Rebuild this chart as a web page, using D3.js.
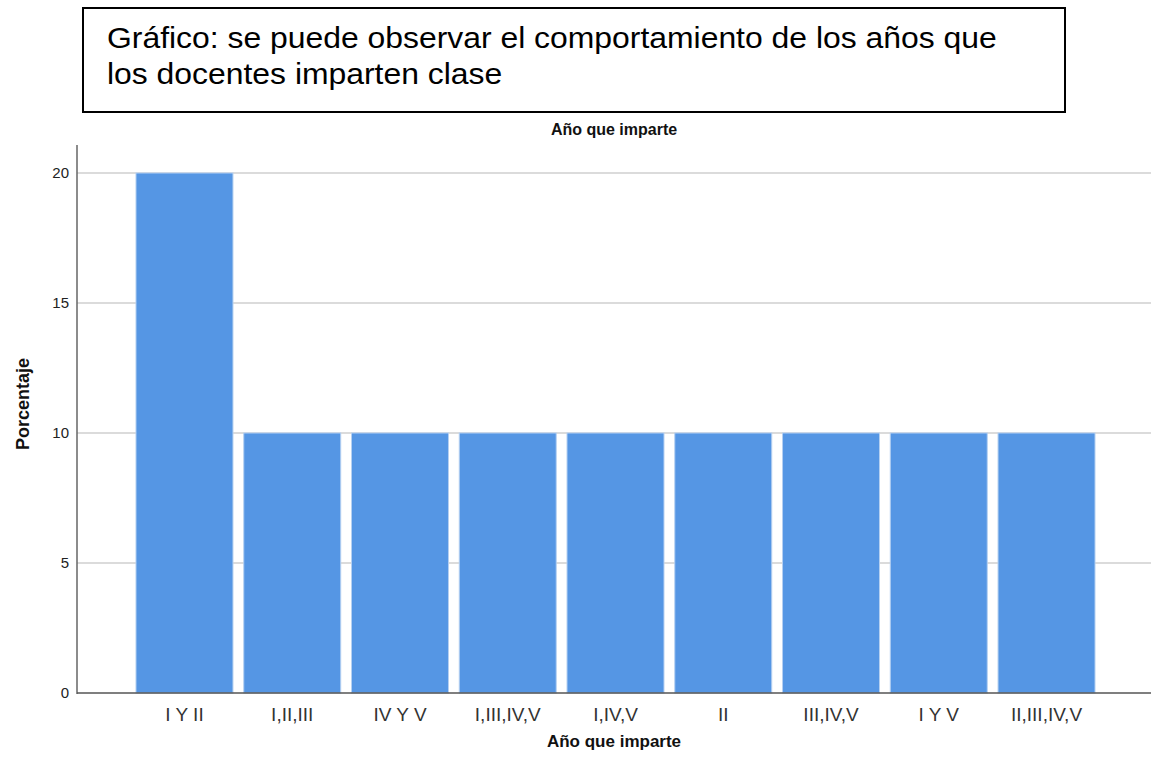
<!DOCTYPE html>
<html>
<head>
<meta charset="utf-8">
<script src="https://cdn.jsdelivr.net/npm/d3@7"></script>
<style>
  body { margin: 0; background: #fff; }
  text { font-family: "Liberation Sans", Arial, sans-serif; }
</style>
</head>
<body>
<div id="chart"></div>
<script>
// data
let categories = ["I Y II", "I,II,III", "IV Y V", "I,III,IV,V", "I,IV,V", "II", "III,IV,V", "I Y V", "II,III,IV,V"];
let porcentaje = [20, 10, 10, 10, 10, 10, 10, 10, 10];
let yTicks = [0, 5, 10, 15, 20];

let svgWidth = 1151;
let svgHeight = 775;
let margin = { top: 145, right: 0, bottom: 82, left: 77 };

let svg = d3.select("#chart")
            .append("svg")
            .attr("width", svgWidth)
            .attr("height", svgHeight);

// caption box
svg.append("rect")
   .attr("x", 83).attr("y", 8)
   .attr("width", 982).attr("height", 104)
   .attr("fill", "none")
   .attr("stroke", "#000")
   .attr("stroke-width", 2);
let caption = ["Gráfico: se puede observar el comportamiento de los años que", "los docentes imparten clase"];
svg.append("g")
   .attr("transform", "translate(107, 0) scale(1.1, 1)")
   .selectAll("text")
   .data(caption)
   .enter()
   .append("text")
   .attr("x", 0)
   .attr("y", (d, i) => 48 + i * 36)
   .style("font-size", "29px")
   .attr("fill", "#000")
   .text(d => d);

// scales
let yScale = d3.scaleLinear()
    .domain([0, 20])
    .range([693, 173]);
let xScale = d3.scaleBand()
    .domain(categories)
    .range([130.6, 1100.4])
    .paddingInner(0.1)
    .paddingOuter(0.05);

// gridlines
svg.append("g")
   .selectAll("line")
   .data(yTicks.slice(1))
   .enter()
   .append("line")
   .attr("x1", margin.left)
   .attr("x2", svgWidth)
   .attr("y1", d => yScale(d))
   .attr("y2", d => yScale(d))
   .attr("stroke", "#cfcfcf")
   .attr("stroke-width", 1.5);

// bars
svg.append("g")
   .selectAll("rect")
   .data(porcentaje)
   .enter()
   .append("rect")
   .attr("x", (d, i) => xScale(categories[i]))
   .attr("y", d => yScale(d))
   .attr("width", xScale.bandwidth())
   .attr("height", d => yScale(0) - yScale(d))
   .attr("fill", "#5596e4")
   .attr("stroke", "#b5d0f1")
   .attr("stroke-width", 1);

// y axis
let leftAxis = d3.axisLeft(yScale).tickValues(yTicks).tickSize(0).tickPadding(8);
let gy = svg.append("g")
   .attr("transform", `translate(${margin.left}, 0)`)
   .call(leftAxis);
gy.attr("font-size", null).attr("font-family", null);
gy.select(".domain").remove();
gy.append("line")
  .attr("x1", 0).attr("x2", 0)
  .attr("y1", 145).attr("y2", 694)
  .attr("stroke", "#666")
  .attr("stroke-width", 1.5);
gy.selectAll("text")
  .style("font-size", "15px")
  .attr("fill", "#222");

// x axis
let bottomAxis = d3.axisBottom(xScale).tickSize(0).tickPadding(15);
let gx = svg.append("g")
   .attr("transform", `translate(0, ${yScale(0)})`)
   .call(bottomAxis);
gx.attr("font-size", null).attr("font-family", null);
gx.select(".domain").remove();
gx.append("line")
  .attr("x1", margin.left).attr("x2", svgWidth)
  .attr("y1", 0).attr("y2", 0)
  .attr("stroke", "#555")
  .attr("stroke-width", 1.5);
gx.selectAll("text")
  .style("font-size", "19px")
  .attr("fill", "#333");

// titles
svg.append("text")
   .attr("x", 614).attr("y", 135)
   .attr("text-anchor", "middle")
   .attr("font-weight", "bold")
   .style("font-size", "16px")
   .attr("fill", "#111")
   .text("Año que imparte");
svg.append("text")
   .attr("x", 614).attr("y", 747)
   .attr("text-anchor", "middle")
   .attr("font-weight", "bold")
   .style("font-size", "17px")
   .attr("fill", "#111")
   .text("Año que imparte");
svg.append("text")
   .attr("transform", "translate(29, 404) rotate(-90)")
   .attr("text-anchor", "middle")
   .attr("font-weight", "bold")
   .style("font-size", "18px")
   .attr("fill", "#111")
   .text("Porcentaje");
</script>
</body>
</html>
